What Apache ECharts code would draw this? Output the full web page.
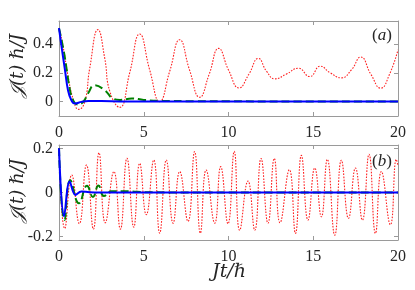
<!DOCTYPE html>
<html>
<head>
<meta charset="utf-8">
<script src="https://cdn.jsdelivr.net/npm/echarts@6/dist/echarts.min.js"></script>
<style>
html,body{margin:0;padding:0;background:#fff;}
#c{width:415px;height:290px;}
</style>
</head>
<body>
<div id="c"></div>
<script>
// ---- data ----
var xTicks = [0, 5, 10, 15, 20];
var yTicksA = [0, 0.2, 0.4];
var yTicksB = [-0.2, 0, 0.2];

// panel (a)
var tRedA = [0,0.23,0.53,0.83,1.16,1.52,1.81,2.3,2.7,3.0,3.58,4.17,4.76,5.35,5.94,6.53,7.12,7.7,8.3,8.86,9.42,10.0,10.62,11.2,11.76,12.25,12.73,13.4,14.12,14.79,15.42,16.0,16.66,17.25,17.8,18.4,18.98,19.5,20];
var vRedA = [0.51,0.39,0.18,0.02,-0.054,-0.002,0.23,0.50,0.30,0.07,-0.04,0.20,0.47,0.22,0.0,0.21,0.43,0.22,0.03,0.19,0.37,0.22,0.095,0.19,0.30,0.21,0.158,0.19,0.232,0.174,0.246,0.20,0.165,0.22,0.31,0.19,0.093,0.19,0.36];

var tGreenA = [0,0.28,0.47,0.63,0.83,1.08,1.42,1.71,2.1,2.7,3.19,3.6,4.3,5.0,6.0,8.0,10.0,14,20];
var vGreenA = [0.51,0.35,0.21,0.09,0.01,-0.02,-0.003,0.056,0.114,0.079,0.021,0.012,0.022,0.012,0.005,0.003,0.002,0.001,0.0];

var tBlueA = [0,0.14,0.34,0.53,0.73,0.93,1.32,1.72,2.5,4,20];
var vBlueA = [0.51,0.39,0.23,0.079,0.009,-0.014,-0.002,0.005,0.004,0.001,0];

// panel (b)
var tRedB = [0,0.34,0.75,1.2,1.62,2.03,2.36,2.73,3.24,3.62,4.01,4.41,4.76,5.15,5.59,5.94,6.33,6.73,7.12,7.61,8.0,8.34,8.68,9.19,9.54,9.97,10.34,10.66,11.15,11.55,11.92,12.33,12.7,13.04,13.59,13.95,14.3,14.69,15.09,15.48,15.83,16.27,16.66,17.08,17.49,17.9,18.29,18.67,19.02,19.55,19.9,20];
var vRedB = [0.2,-0.163,0.079,-0.141,0.124,-0.166,0.18,-0.137,0.095,-0.166,0.155,-0.157,0.132,-0.101,0.147,-0.184,0.147,-0.139,0.095,-0.131,0.185,-0.184,0.102,-0.139,0.117,-0.142,0.186,-0.171,0.052,-0.171,0.154,-0.139,0.154,-0.137,0.103,-0.185,0.168,-0.125,0.111,-0.11,0.15,-0.193,0.146,-0.117,0.111,-0.125,0.173,-0.185,0.095,-0.146,0.15,0.12];

var tGreenB = [0,0.33,0.67,1.18,1.65,2.0,2.33,2.65,3.1,3.9,4.6,5.5,7,20];
var vGreenB = [0.2,-0.125,0.056,-0.049,0.03,-0.02,0.032,-0.016,0.006,0.006,0.003,0.001,0,0];

var tBlueB = [0,0.3,0.63,0.97,1.32,1.8,2.5,20];
var vBlueB = [0.2,-0.108,0.05,-0.011,0.005,0.001,0,0];

function pairs(t, v) { return t.map(function (x, i) { return [x, v[i]]; }); }

var FRAME = '#9a9a9a';
var TXT = '#262626';
var FONT = 'Liberation Serif';

function xAx(gi, pos, labels) {
  return {
    type: 'value', gridIndex: gi, position: pos, min: 0, max: 20, interval: 5,
    axisLine: { show: true, onZero: false, lineStyle: { color: FRAME, width: 1 } },
    axisTick: { show: true, inside: true, length: 4, lineStyle: { color: FRAME } },
    axisLabel: { show: labels, color: TXT, fontFamily: FONT, fontSize: 16, margin: 9 },
    splitLine: { show: false }
  };
}
function yAx(gi, pos, labels, mn, mx, ticks) {
  return {
    type: 'value', gridIndex: gi, position: pos, min: mn, max: mx,
    axisLine: { show: true, onZero: false, lineStyle: { color: FRAME, width: 1 } },
    axisTick: { show: true, inside: true, length: 4, customValues: ticks, lineStyle: { color: FRAME } },
    axisLabel: { show: labels, customValues: ticks, color: TXT, fontFamily: FONT, fontSize: 16, margin: 6,
      formatter: function (v) { return Math.abs(v) < 1e-9 ? '0' : (+v).toFixed(1); } },
    splitLine: { show: false }
  };
}
function red(xi, yi, data) {
  return { type: 'line', xAxisIndex: xi, yAxisIndex: yi, data: data, showSymbol: false, smooth: 0.5,
    lineStyle: { color: '#ff2020', width: 1.1, type: [1.6, 1.4] }, z: 2, silent: true, animation: false };
}
function green(xi, yi, data) {
  return { type: 'line', xAxisIndex: xi, yAxisIndex: yi, data: data, showSymbol: false, smooth: 0.5,
    lineStyle: { color: '#008000', width: 2, type: [8, 4] }, z: 3, silent: true, animation: false };
}
function blue(xi, yi, data) {
  return { type: 'line', xAxisIndex: xi, yAxisIndex: yi, data: data, showSymbol: false, smooth: 0.4,
    lineStyle: { color: '#0000ff', width: 2 }, z: 4, silent: true, animation: false };
}

var chart = echarts.init(document.getElementById('c'), null, { renderer: 'canvas' });
chart.setOption({
  animation: false,
  backgroundColor: '#ffffff',
  grid: [
    { left: 59, right: 17, top: 21, height: 95 },
    { left: 59, right: 17, top: 145, height: 95 }
  ],
  xAxis: [xAx(0, 'bottom', true), xAx(0, 'top', false), xAx(1, 'bottom', true), xAx(1, 'top', false)],
  yAxis: [
    yAx(0, 'left', true, -0.1, 0.56, yTicksA), yAx(0, 'right', false, -0.1, 0.56, yTicksA),
    yAx(1, 'left', true, -0.215, 0.215, yTicksB), yAx(1, 'right', false, -0.215, 0.215, yTicksB)
  ],
  series: [
    red(0, 0, pairs(tRedA, vRedA)), green(0, 0, pairs(tGreenA, vGreenA)), blue(0, 0, pairs(tBlueA, vBlueA)),
    red(2, 2, pairs(tRedB, vRedB)), green(2, 2, pairs(tGreenB, vGreenB)), blue(2, 2, pairs(tBlueB, vBlueB))
  ],
  graphic: [
    { type: 'text', x: 18, y: 66, rotation: Math.PI / 2,
      style: { text: '𝒥(t) ℏ/J', fontFamily: 'DejaVu Serif', fontStyle: 'italic', fontSize: 18, fill: TXT, align: 'center', verticalAlign: 'middle' } },
    { type: 'text', x: 18, y: 191, rotation: Math.PI / 2,
      style: { text: '𝒥(t) ℏ/J', fontFamily: 'DejaVu Serif', fontStyle: 'italic', fontSize: 18, fill: TXT, align: 'center', verticalAlign: 'middle' } },
    { type: 'text', x: 229, y: 272,
      style: { text: 'Jt/ℏ', fontFamily: 'DejaVu Serif', fontStyle: 'italic', fontSize: 19, fill: TXT, align: 'center', verticalAlign: 'middle' } },
    { type: 'text', x: 382, y: 36,
      style: { text: '{n|(}{i|a}{n|)}', align: 'center', verticalAlign: 'middle',
        rich: { n: { fontFamily: FONT, fontSize: 17, fill: TXT }, i: { fontFamily: FONT, fontStyle: 'italic', fontSize: 17, fill: TXT } } } },
    { type: 'text', x: 382, y: 162,
      style: { text: '{n|(}{i|b}{n|)}', align: 'center', verticalAlign: 'middle',
        rich: { n: { fontFamily: FONT, fontSize: 17, fill: TXT }, i: { fontFamily: FONT, fontStyle: 'italic', fontSize: 17, fill: TXT } } } }
  ]
});
</script>
</body>
</html>
